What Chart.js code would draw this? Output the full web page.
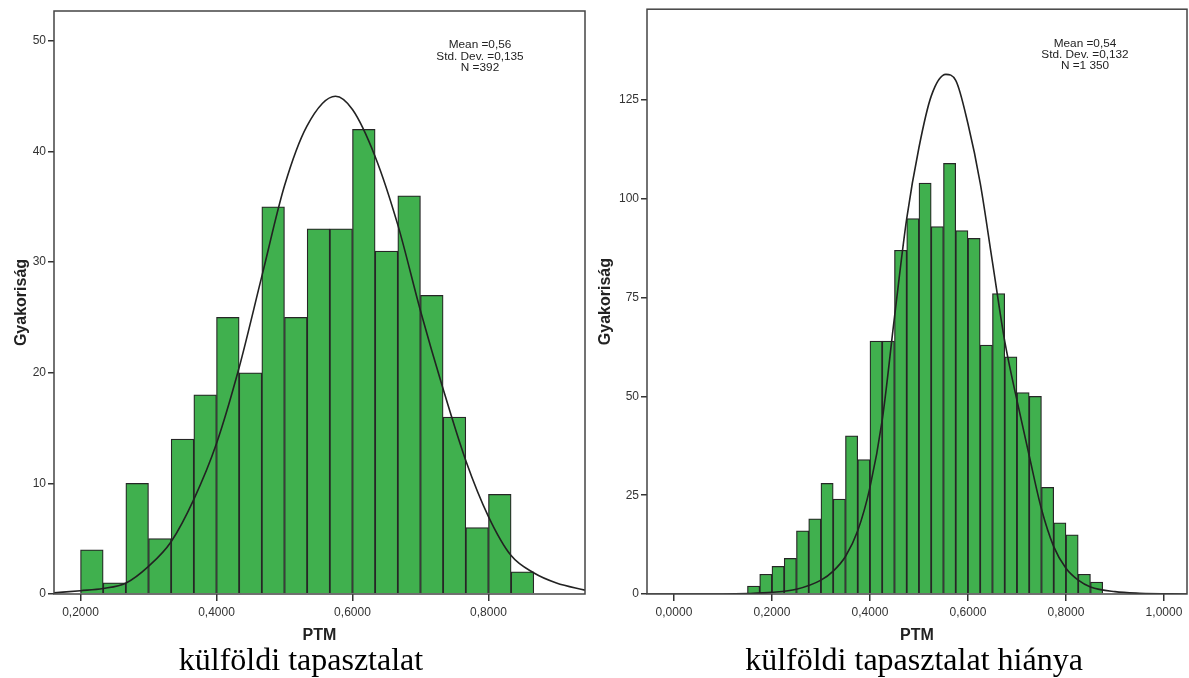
<!DOCTYPE html>
<html>
<head>
<meta charset="utf-8">
<title>PTM hisztogram</title>
<script src="https://cdn.jsdelivr.net/npm/chart.js@4.4.1/dist/chart.umd.min.js"></script>
<style>
    body { margin: 0; background: #fff; width: 1189px; height: 678px; overflow: hidden; position: relative; }
    .wrap { position: absolute; top: 0; height: 678px; }
    #leftWrap { left: 0; width: 595px; }
    #rightWrap { left: 595px; width: 594px; }
</style>
</head>
<body>
<div class="wrap" id="leftWrap"><canvas id="leftChart" width="595" height="678"></canvas></div>
<div class="wrap" id="rightWrap"><canvas id="rightChart" width="594" height="678"></canvas></div>
<script>
// Left panel: külföldi tapasztalat (bin width 1/30)
const leftBinMid = [0.21667, 0.25, 0.28333, 0.31667, 0.35, 0.38333, 0.41667, 0.45, 0.48333, 0.51667,
                    0.55, 0.58333, 0.61667, 0.65, 0.68333, 0.71667, 0.75, 0.78333, 0.81667, 0.85];
const leftCounts = [4, 1, 10, 5, 14, 18, 25, 20, 35, 25, 33, 33, 42, 31, 36, 27, 16, 6, 9, 2];
const leftCurveX = [0.161, 0.2, 0.233, 0.267, 0.3, 0.333, 0.367, 0.4, 0.433, 0.467, 0.5, 0.533, 0.575,
                    0.6, 0.633, 0.667, 0.7, 0.733, 0.767, 0.8, 0.833, 0.867, 0.9, 0.942];
const leftCurveY = [0.1, 0.3, 0.5, 1.0, 2.5, 4.7, 8.6, 13.6, 20.4, 28.8, 36.9, 42.3, 45.0,
                    43.8, 39.6, 33.3, 25.6, 18.6, 12.0, 7.0, 3.5, 1.9, 1.0, 0.35];
const leftXTicks = [0.2, 0.4, 0.6, 0.8];
const leftXLabels = ['0,2000', '0,4000', '0,6000', '0,8000'];
const leftYTicks = [0, 10, 20, 30, 40, 50];
const leftStats = ['Mean =0,56', 'Std. Dev. =0,135', 'N =392'];

// Right panel: külföldi tapasztalat hiánya (bin width 0.025)
const rightBinMid = [0.1625, 0.1875, 0.2125, 0.2375, 0.2625, 0.2875, 0.3125, 0.3375, 0.3625, 0.3875,
                     0.4125, 0.4375, 0.4625, 0.4875, 0.5125, 0.5375, 0.5625, 0.5875, 0.6125, 0.6375,
                     0.6625, 0.6875, 0.7125, 0.7375, 0.7625, 0.7875, 0.8125, 0.8375, 0.8625];
const rightCounts = [2, 5, 7, 9, 16, 19, 28, 24, 40, 34, 64, 64, 87, 95, 104, 93, 109, 92, 90, 63,
                     76, 60, 51, 50, 27, 18, 15, 5, 3];
const rightCurveX = [-0.055, 0.1, 0.15, 0.2, 0.25, 0.3, 0.325, 0.35, 0.375, 0.4, 0.425, 0.45, 0.475, 0.5,
                     0.525, 0.555, 0.575, 0.6, 0.625, 0.65, 0.675, 0.7, 0.725, 0.75, 0.775, 0.8, 0.825,
                     0.85, 0.9, 0.95, 1.047];
const rightCurveY = [0, 0, 0.1, 0.4, 1.2, 3.5, 5.8, 9.5, 16, 27, 44, 70, 95, 113,
                     126, 131.5, 130, 119, 104, 84, 64, 49, 35, 21.5, 12, 6.5, 3.5,
                     1.8, 0.6, 0.2, 0];
const rightXTicks = [0, 0.2, 0.4, 0.6, 0.8, 1.0];
const rightXLabels = ['0,0000', '0,2000', '0,4000', '0,6000', '0,8000', '1,0000'];
const rightYTicks = [0, 25, 50, 75, 100, 125];
const rightStats = ['Mean =0,54', 'Std. Dev. =0,132', 'N =1 350'];

const sansFont = '"Liberation Sans", Arial, sans-serif';
const serifFont = '"Liberation Serif", "Times New Roman", serif';

// Frame, stats box and caption under each panel
const spssPlugin = {
    id: 'spssExtras',
    afterDatasetsDraw(chart, args, opts) {
        const { ctx, chartArea: a } = chart;
        ctx.save();
        ctx.strokeStyle = '#444';
        ctx.lineWidth = 1.5;
        ctx.strokeRect(a.left, a.top, a.right - a.left, a.bottom - a.top);

        // stats text is squeezed vertically in the original, so stretch it sideways
        ctx.fillStyle = '#222';
        ctx.font = '10px ' + sansFont;
        ctx.textAlign = 'center';
        ctx.textBaseline = 'middle';
        opts.stats.forEach((line, i) => {
            ctx.save();
            ctx.translate(opts.statsX, opts.statsY + i * opts.statsStep);
            ctx.scale(1.18, 1);
            ctx.fillText(line, 0, 0);
            ctx.restore();
        });

        ctx.fillStyle = '#000';
        ctx.font = '32px ' + serifFont;
        ctx.textBaseline = 'alphabetic';
        ctx.fillText(opts.caption, opts.captionX, 670);
        ctx.restore();
    }
};

function makeHistogram(canvasId, p) {
    const bars = p.mids.map((m, i) => ({ x: m, y: p.counts[i] }));
    const curve = p.curveX.map((x, i) => ({ x: x, y: p.curveY[i] }));

    return new Chart(document.getElementById(canvasId), {
        type: 'bar',
        data: {
            datasets: [
                {
                    type: 'line',
                    data: curve,
                    borderColor: '#222',
                    borderWidth: 1.6,
                    pointRadius: 0,
                    cubicInterpolationMode: 'monotone',
                    fill: false,
                    order: 0
                },
                {
                    type: 'bar',
                    data: bars,
                    backgroundColor: '#40b04e',
                    borderColor: '#262626',
                    borderWidth: 1.25,
                    barPercentage: 1,
                    categoryPercentage: 1,
                    order: 1
                }
            ]
        },
        options: {
            responsive: false,
            animation: false,
            layout: { padding: p.padding },
            plugins: {
                legend: { display: false },
                tooltip: { enabled: false },
                spssExtras: {
                    stats: p.stats, statsX: p.statsX, statsY: p.statsY, statsStep: p.statsStep,
                    caption: p.caption, captionX: p.captionX
                }
            },
            scales: {
                x: {
                    type: 'linear',
                    offset: false,
                    min: p.xMin,
                    max: p.xMax,
                    afterBuildTicks: s => { s.ticks = p.xTicks.map(v => ({ value: v })); },
                    afterFit: s => { s.height = 84; },
                    ticks: {
                        autoSkip: false,
                        maxRotation: 0,
                        padding: 4,
                        color: '#333',
                        font: { size: 12, family: sansFont },
                        callback: (v, i) => p.xLabels[i]
                    },
                    grid: { offset: false, drawOnChartArea: false, drawTicks: true, tickLength: 7, color: '#333', lineWidth: 1.5 },
                    border: { display: false },
                    title: {
                        display: true, text: 'PTM', color: '#222',
                        font: { size: 16, weight: 'bold', family: sansFont },
                        padding: { top: 0, bottom: 33 }
                    }
                },
                y: {
                    type: 'linear',
                    min: 0,
                    max: p.yMax,
                    afterBuildTicks: s => { s.ticks = p.yTicks.map(v => ({ value: v })); },
                    afterFit: s => { s.width = p.yWidth; },
                    ticks: {
                        padding: 2,
                        color: '#333',
                        font: { size: 12, family: sansFont },
                        callback: v => String(v)
                    },
                    grid: { drawOnChartArea: false, drawTicks: true, tickLength: 6, color: '#333', lineWidth: 1.5 },
                    border: { display: false },
                    title: {
                        display: true, text: 'Gyakoriság', color: '#222',
                        font: { size: 16, weight: 'bold', family: sansFont },
                        padding: { top: p.yTitlePad, bottom: 0 }
                    }
                }
            }
        },
        plugins: [spssPlugin]
    });
}

document.addEventListener('DOMContentLoaded', function() {
    makeHistogram('leftChart', {
        mids: leftBinMid, counts: leftCounts,
        curveX: leftCurveX, curveY: leftCurveY,
        xMin: 0.161, xMax: 0.942, xTicks: leftXTicks, xLabels: leftXLabels,
        yMax: 52.7, yTicks: leftYTicks, yWidth: 54, yTitlePad: 12,
        padding: { top: 11, right: 10, left: 0, bottom: 0 },
        stats: leftStats, statsX: 480, statsY: 45.5, statsStep: 11.5,
        caption: 'külföldi tapasztalat', captionX: 301
    });

    makeHistogram('rightChart', {
        mids: rightBinMid, counts: rightCounts,
        curveX: rightCurveX, curveY: rightCurveY,
        xMin: -0.055, xMax: 1.047, xTicks: rightXTicks, xLabels: rightXLabels,
        yMax: 148, yTicks: rightYTicks, yWidth: 52, yTitlePad: 0.5,
        padding: { top: 8, right: 2, left: 0, bottom: 0 },
        stats: rightStats, statsX: 490, statsY: 44, statsStep: 11,
        caption: 'külföldi tapasztalat hiánya', captionX: 319
    });
});
</script>
</body>
</html>
